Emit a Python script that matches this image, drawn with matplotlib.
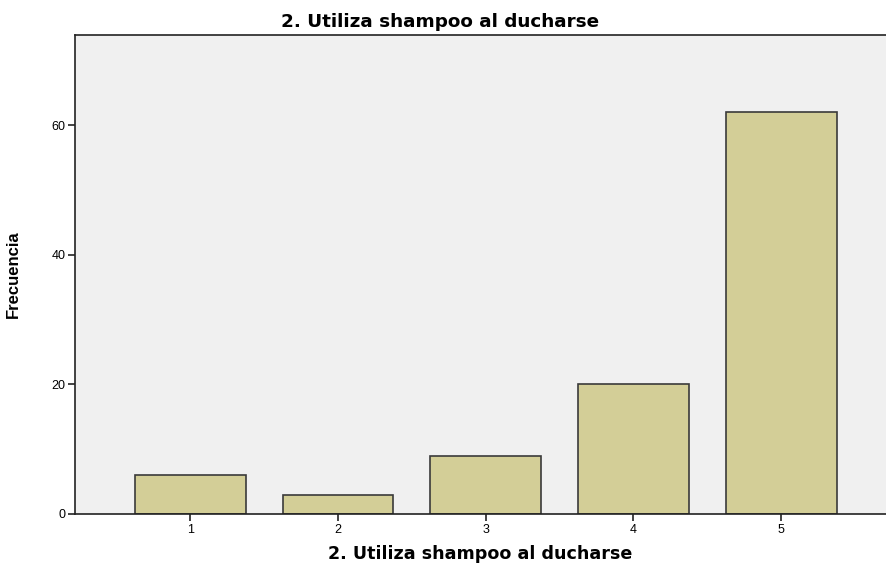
import matplotlib
matplotlib.use('Agg')
import matplotlib.pyplot as plt

# datos del gráfico
categorias = ['1', '2', '3', '4', '5']
frecuencias = [6, 3, 9, 20, 62]
yticks = [0, 20, 40, 60]
titulo = '2. Utiliza shampoo al ducharse'

plt.rcParams['font.family'] = ['Liberation Sans', 'DejaVu Sans']

fig = plt.figure(figsize=(8.86, 5.70), dpi=100)
ax = fig.add_axes([75 / 886, 56 / 570, 811 / 886, 479 / 570])
ax.set_facecolor('#f0f0f0')

pos = list(range(1, len(categorias) + 1))
ax.bar(pos, frecuencias, width=0.75, color='#d3ce97', edgecolor='#3a3a3a', linewidth=1.2, zorder=2)

ax.set_xlim(0.22, 5.71)
ax.set_ylim(0, 73.9)
ax.set_xticks(pos)
ax.set_xticklabels(categorias)
ax.set_yticks(yticks)

ax.spines['right'].set_visible(False)
for s in ['left', 'bottom', 'top']:
    ax.spines[s].set_color('#222222')
    ax.spines[s].set_linewidth(1.2)
ax.tick_params(axis='both', length=5, width=1.2, color='#222222', labelsize=9, pad=2)

# titulo centrado en la figura, no en los ejes
fig.text(440 / 886, 1 - 27 / 570, titulo, fontsize=13.2, fontweight='bold',
         family='DejaVu Sans', ha='center', va='baseline')
ax.set_xlabel(titulo, fontsize=12.6, fontweight='bold', family='DejaVu Sans', labelpad=7)
ax.set_ylabel('Frecuencia', fontsize=12, fontweight='bold', labelpad=22)

fig.savefig('out.png', dpi=100)
